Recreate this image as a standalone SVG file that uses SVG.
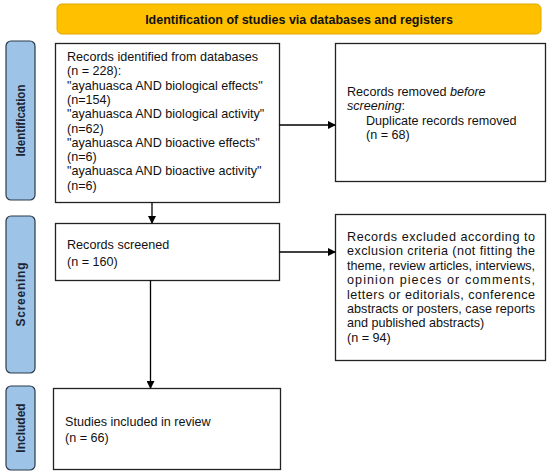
<svg xmlns="http://www.w3.org/2000/svg" width="550" height="476" viewBox="0 0 550 476">
<defs>
<marker id="ah" markerWidth="8" markerHeight="8" refX="7" refY="4" orient="auto" markerUnits="userSpaceOnUse">
<path d="M0,0 L8,4 L0,8 Z" fill="#000"/>
</marker>
<style>
.box{fill:#fff;stroke:#222;stroke-width:1.3}
.lab{fill:#9DC3E6;stroke:#2b3a4a;stroke-width:1.2}
.t{font-family:"Liberation Sans",Arial,sans-serif;font-size:12.6px;fill:#111}
.lt{font-family:"Liberation Sans",Arial,sans-serif;font-size:12px;font-weight:bold;fill:#1a2533;text-anchor:middle}
.conn{stroke:#000;stroke-width:1.3;fill:none}
</style>
</defs>
<rect width="550" height="476" fill="#fff"/>
<g id="header">
<rect x="57" y="4" width="484" height="30" rx="5" fill="#FFC000" stroke="#E0A800" stroke-width="1"/>
<text x="299" y="24" class="t" style="font-weight:bold;font-size:12.5px" text-anchor="middle">Identification of studies via databases and registers</text>
</g>
<g id="label-identification">
<rect class="lab" x="6" y="41" width="29" height="159" rx="5"/>
<text class="lt" transform="translate(24.5,120.5) rotate(-90)" textLength="72" lengthAdjust="spacingAndGlyphs">Identification</text>
</g>
<g id="label-screening">
<rect class="lab" x="6" y="216" width="29" height="157" rx="5"/>
<text class="lt" transform="translate(24.5,294.5) rotate(-90)" textLength="64" lengthAdjust="spacing">Screening</text>
</g>
<g id="label-included">
<rect class="lab" x="6" y="386" width="29" height="84" rx="5"/>
<text class="lt" transform="translate(24.5,428) rotate(-90)">Included</text>
</g>
<g id="records-identified">
<rect class="box" x="55.5" y="43.5" width="224" height="159"/>
<text class="t" x="67" y="61">Records identified from databases</text>
<text class="t" x="67" y="75.3">(n = 228):</text>
<text class="t" x="67" y="89.6">"ayahuasca AND biological effects"</text>
<text class="t" x="67" y="103.9">(n=154)</text>
<text class="t" x="67" y="118.2">"ayahuasca AND biological activity"</text>
<text class="t" x="67" y="132.5">(n=62)</text>
<text class="t" x="67" y="146.8">"ayahuasca AND bioactive effects"</text>
<text class="t" x="67" y="161.1">(n=6)</text>
<text class="t" x="67" y="175.4">"ayahuasca AND bioactive activity"</text>
<text class="t" x="67" y="189.7">(n=6)</text>
</g>
<g id="records-removed">
<rect class="box" x="335.5" y="43.5" width="210" height="138"/>
<text class="t" x="347" y="96">Records removed <tspan font-style="italic">before</tspan></text>
<text class="t" x="347" y="110.3"><tspan font-style="italic">screening</tspan>:</text>
<text class="t" x="366" y="124.6">Duplicate records removed</text>
<text class="t" x="366" y="138.9">(n = 68)</text>
</g>
<g id="records-screened">
<rect class="box" x="55.5" y="223.5" width="224" height="57"/>
<text class="t" x="67" y="249">Records screened</text>
<text class="t" x="67" y="266">(n = 160)</text>
</g>
<g id="records-excluded">
<rect class="box" x="335.5" y="214.5" width="210" height="146"/>
<text class="t" x="347" y="241" textLength="188" lengthAdjust="spacing">Records excluded according to</text>
<text class="t" x="347" y="255.4" textLength="188" lengthAdjust="spacing">exclusion criteria (not fitting the</text>
<text class="t" x="347" y="269.8" textLength="188" lengthAdjust="spacing">theme, review articles, interviews,</text>
<text class="t" x="347" y="284.2" textLength="188" lengthAdjust="spacing">opinion pieces or comments,</text>
<text class="t" x="347" y="298.6" textLength="188" lengthAdjust="spacing">letters or editorials, conference</text>
<text class="t" x="347" y="313" textLength="188" lengthAdjust="spacing">abstracts or posters, case reports</text>
<text class="t" x="347" y="327.4">and published abstracts)</text>
<text class="t" x="347" y="341.8">(n = 94)</text>
</g>
<g id="studies-included">
<rect class="box" x="53.5" y="388.5" width="227" height="81"/>
<text class="t" x="65" y="426">Studies included in review</text>
<text class="t" x="65" y="442">(n = 66)</text>
</g>
<g id="connectors">
<line class="conn" x1="279.5" y1="125" x2="335" y2="125" marker-end="url(#ah)"/>
<line class="conn" x1="152" y1="202.5" x2="152" y2="223" marker-end="url(#ah)"/>
<line class="conn" x1="279.5" y1="252" x2="335" y2="252" marker-end="url(#ah)"/>
<line class="conn" x1="150.5" y1="280.5" x2="150.5" y2="388" marker-end="url(#ah)"/>
</g>
</svg>
